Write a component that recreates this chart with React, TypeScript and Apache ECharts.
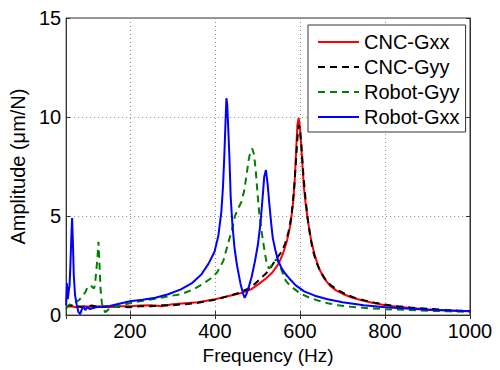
import React, { useEffect, useRef } from "react";
import * as echarts from "echarts";

const seriesNames = ["CNC-Gxx", "CNC-Gyy", "Robot-Gyy", "Robot-Gxx"];
const xTicks = [200, 400, 600, 800, 1000];
const yTicks = [0, 5, 10, 15];

const redF = [50, 60, 75, 90, 110, 130, 150, 175, 200, 225, 250, 275, 300, 330, 360, 400, 430, 460, 485, 505, 520, 535, 550, 560, 570, 578, 584, 588, 591, 594, 597, 600, 604, 609, 614, 620, 627, 635, 645, 657, 670, 685, 700, 720, 745, 770, 800, 830, 860, 900, 940, 970, 1000];
const redY = [0.42, 0.45, 0.4, 0.45, 0.42, 0.45, 0.4, 0.45, 0.45, 0.48, 0.5, 0.45, 0.55, 0.6, 0.65, 0.8, 0.95, 1.1, 1.3, 1.6, 1.85, 2.15, 2.6, 3.1, 3.8, 4.6, 5.7, 6.9, 8.3, 9.6, 9.95, 9.5, 8.2, 6.5, 5.5, 4.6, 3.7, 3.0, 2.35, 1.85, 1.5, 1.25, 1.08, 0.9, 0.75, 0.62, 0.5, 0.42, 0.36, 0.3, 0.25, 0.22, 0.2];

const blackF = [50, 60, 75, 90, 110, 130, 150, 175, 200, 225, 250, 275, 300, 330, 360, 400, 430, 460, 485, 505, 520, 530, 540, 550, 557, 565, 573, 580, 586, 590, 594, 597, 600, 604, 608, 613, 618, 624, 630, 638, 648, 660, 673, 688, 705, 725, 750, 775, 800, 830, 860, 900, 940, 970, 1000];
const blackY = [0.4, 0.5, 0.45, 0.4, 0.48, 0.4, 0.45, 0.42, 0.4, 0.45, 0.45, 0.5, 0.5, 0.55, 0.62, 0.78, 0.95, 1.15, 1.4, 1.8, 2.1, 2.35, 2.7, 3.0, 3.2, 3.6, 4.2, 5.0, 6.3, 7.6, 8.9, 9.6, 9.4, 8.4, 7.1, 5.9, 4.9, 4.0, 3.3, 2.7, 2.2, 1.8, 1.5, 1.28, 1.08, 0.9, 0.75, 0.63, 0.53, 0.45, 0.38, 0.32, 0.26, 0.23, 0.21];

const greenF = [50, 53, 56, 60, 65, 72, 80, 88, 95, 100, 104, 108, 112, 116, 119, 122, 124, 126, 128, 131, 134, 138, 142, 148, 155, 165, 180, 200, 230, 260, 290, 320, 350, 370, 390, 405, 420, 432, 440, 447, 455, 462, 468, 474, 479, 484, 488, 492, 496, 500, 504, 508, 512, 517, 522, 527, 533, 539, 545, 551, 558, 566, 576, 588, 600, 620, 640, 665, 690, 720, 760, 800, 850, 900, 950, 1000];
const greenY = [0.3, 0.45, 0.5, 0.55, 0.6, 0.65, 0.75, 0.95, 1.15, 1.4, 1.45, 1.5, 1.4, 1.35, 1.8, 2.5, 3.0, 3.7, 2.8, 1.3, 0.6, 0.3, 0.15, 0.25, 0.35, 0.42, 0.5, 0.6, 0.72, 0.82, 0.95, 1.05, 1.3, 1.55, 1.85, 2.15, 2.75, 3.7, 4.3, 5.0, 5.4, 5.7, 6.2, 7.0, 7.8, 8.3, 8.4, 8.1, 7.3, 6.2, 5.2, 4.5, 3.9, 3.2, 2.6, 2.35, 2.5, 2.7, 2.82, 2.6, 2.2, 1.75, 1.5, 1.3, 1.1, 0.9, 0.75, 0.6, 0.5, 0.42, 0.35, 0.3, 0.26, 0.22, 0.19, 0.16];

const blueF = [50, 52, 54, 56, 58, 60, 62, 64, 66, 68, 71, 75, 79, 83, 87, 91, 95, 100, 106, 112, 120, 135, 150, 170, 200, 230, 260, 290, 320, 345, 368, 385, 399, 408, 415, 419, 422, 425, 427, 429, 431, 434, 437, 441, 446, 452, 460, 466, 470, 474, 480, 486, 494, 501, 507, 512, 516, 520, 524, 528, 532, 536, 542, 548, 556, 565, 575, 590, 610, 635, 665, 700, 750, 800, 850, 900, 950, 1000];
const blueY = [0.5, 1.6, 0.8, 1.2, 1.5, 2.5, 3.8, 4.9, 3.6, 2.0, 1.0, 0.5, 0.15, 0.05, 0.3, 0.45, 0.25, 0.4, 0.3, 0.35, 0.4, 0.42, 0.45, 0.55, 0.7, 0.78, 0.88, 1.05, 1.3, 1.6, 2.05, 2.6, 3.2, 4.0, 5.2, 6.5, 8.0, 9.8, 10.95, 10.6, 9.6, 8.0, 6.0, 4.6, 3.4, 2.5, 1.6, 1.1, 0.87, 1.05, 1.45, 1.9, 2.7, 3.55, 4.6, 5.9, 7.0, 7.32, 6.6, 5.6, 4.7, 3.9, 3.3, 2.8, 2.4, 2.1, 1.85, 1.5, 1.2, 0.98, 0.8, 0.65, 0.5, 0.4, 0.33, 0.27, 0.23, 0.2];

const FONT = "'Liberation Sans', Arial, sans-serif";

function pairs(f: number[], y: number[]) {
  return f.map((v, i) => [v, y[i]]);
}

export default function App() {
  const ref = useRef<HTMLDivElement>(null);
  useEffect(() => {
    if (!ref.current) return;
    const chart = echarts.init(ref.current, undefined, { renderer: "svg" });
    const dotted = { color: "#8a8a8a", width: 1, type: [1, 3] as number[] };
    const lineSeries = (name: string, data: number[][], color: string, dashed: boolean) => ({
      name,
      type: "line",
      data,
      showSymbol: false,
      symbol: "none",
      smooth: false,
      lineStyle: { color, width: 2, type: dashed ? [7, 5] : "solid" },
      itemStyle: { color },
      z: 3,
    });
    chart.setOption({
      animation: false,
      backgroundColor: "#ffffff",
      textStyle: { fontFamily: FONT },
      grid: {
        left: 64, top: 18, width: 406, height: 300,
        show: true, borderColor: "#333", borderWidth: 1, backgroundColor: "transparent",
      },
      legend: {
        data: seriesNames,
        orient: "vertical",
        left: 308,
        top: 25,
        backgroundColor: "#ffffff",
        borderColor: "#333",
        borderWidth: 1,
        borderRadius: 0,
        padding: [7, 6, 5, 9],
        itemGap: 5,
        itemWidth: 41,
        itemHeight: 20,
        itemStyle: { opacity: 0 },
        textStyle: { fontSize: 20, color: "#000", fontFamily: FONT, lineHeight: 20 },
        selectedMode: false,
      },
      xAxis: [
        {
          type: "value",
          min: 50,
          max: 1000,
          minInterval: 200,
          maxInterval: 200,
          name: "Frequency (Hz)",
          nameLocation: "middle",
          nameGap: 27,
          nameTextStyle: { fontSize: 19, color: "#000", fontFamily: FONT },
          axisLine: { show: true, lineStyle: { color: "#333", width: 1 } },
          axisTick: { show: true, inside: true, length: 4, lineStyle: { color: "#333" } },
          axisLabel: {
            fontSize: 20, color: "#000", margin: 6, fontFamily: FONT,
            formatter: (v: number) => (xTicks.includes(v) ? String(v) : ""),
          },
          splitLine: { show: true, lineStyle: dotted },
        },
        {
          type: "value",
          position: "top",
          min: 50,
          max: 1000,
          minInterval: 200,
          maxInterval: 200,
          axisLine: { show: true, lineStyle: { color: "#333", width: 1 } },
          axisTick: { show: true, inside: true, length: 4, lineStyle: { color: "#333" } },
          axisLabel: { show: false },
          splitLine: { show: false },
        },
      ],
      yAxis: [
        {
          type: "value",
          min: 0,
          max: 15,
          interval: 5,
          name: "Amplitude (\u03bcm/N)",
          nameLocation: "middle",
          nameGap: 25,
          nameRotate: 90,
          nameTextStyle: { fontSize: 20, color: "#000", fontFamily: FONT },
          axisLine: { show: true, lineStyle: { color: "#333", width: 1 } },
          axisTick: { show: true, inside: true, length: 4, lineStyle: { color: "#333" } },
          axisLabel: {
            fontSize: 20, color: "#000", margin: 5, fontFamily: FONT,
            formatter: (v: number) => (yTicks.includes(v) ? String(v) : ""),
          },
          splitLine: { show: true, lineStyle: dotted },
        },
        {
          type: "value",
          position: "right",
          min: 0,
          max: 15,
          interval: 5,
          axisLine: { show: true, lineStyle: { color: "#333", width: 1 } },
          axisTick: { show: true, inside: true, length: 4, lineStyle: { color: "#333" } },
          axisLabel: { show: false },
          splitLine: { show: false },
        },
      ],
      series: [
        lineSeries(seriesNames[0], pairs(redF, redY), "#ff0000", false),
        lineSeries(seriesNames[1], pairs(blackF, blackY), "#000000", true),
        lineSeries(seriesNames[2], pairs(greenF, greenY), "#008000", true),
        lineSeries(seriesNames[3], pairs(blueF, blueY), "#0000ff", false),
      ],
    });
    return () => chart.dispose();
  }, []);
  return (
    <div
      ref={ref}
      style={{ position: "absolute", left: 0, top: 0, width: 500, height: 370 }}
    />
  );
}
